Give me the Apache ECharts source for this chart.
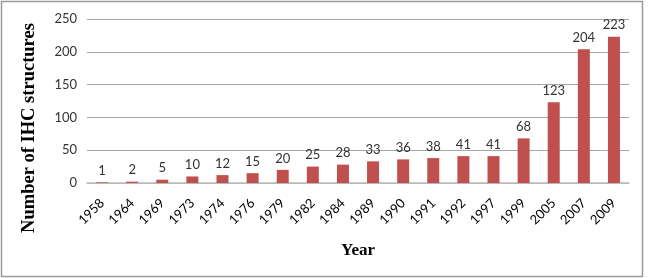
<!DOCTYPE html>
<html>
<head>
<meta charset="utf-8">
<script src="https://cdn.jsdelivr.net/npm/echarts@6/dist/echarts.min.js"></script>
<style>
    html, body { margin: 0; padding: 0; background: #fff; }
    #chart { width: 649px; height: 278px; }
</style>
</head>
<body>
<div id="chart"></div>
<script>
const years = ['1958', '1964', '1969', '1973', '1974', '1976', '1979', '1982', '1984',
    '1989', '1990', '1991', '1992', '1997', '1999', '2005', '2007', '2009'];
const structures = [1, 2, 5, 10, 12, 15, 20, 25, 28, 33, 36, 38, 41, 41, 68, 123, 204, 223];
const yTicks = [0, 50, 100, 150, 200, 250];

window.onload = () => {
    let chart = echarts.init(document.getElementById('chart'), null, {renderer: 'canvas'});
    let titleFont = 'Liberation Serif';
    let option = {
        animation: false,
        graphic: [{
            type: 'rect',
            shape: {x: 1.5, y: 1.5, width: 641, height: 275},
            style: {fill: null, stroke: '#9a9a9a', lineWidth: 1.5}
        }, {
            // y axis title, centred on the whole chart height like the original
            type: 'text',
            x: 29,
            y: 128,
            rotation: Math.PI / 2,
            style: {
                text: 'Number of IHC structures',
                fontFamily: titleFont,
                fontWeight: 'bold',
                fontSize: 18.5,
                fill: '#000',
                align: 'center',
                verticalAlign: 'middle'
            }
        }],
        grid: {left: 87, right: 20, top: 19, bottom: 95},
        xAxis: {
            type: 'category',
            data: years,
            name: 'Year',
            nameLocation: 'middle',
            nameGap: 59,
            nameTextStyle: {fontFamily: titleFont, fontWeight: 'bold', fontSize: 17, color: '#000'},
            axisLine: {lineStyle: {color: '#bfbfbf', width: 1.5}},
            axisTick: {show: false},
            axisLabel: {
                rotate: 45, interval: 0, margin: 18,
                fontFamily: 'Lato', fontSize: 13, color: '#000'
            }
        },
        yAxis: {
            type: 'value',
            min: yTicks[0],
            max: yTicks[yTicks.length - 1],
            interval: 50,
            axisLine: {show: false},
            axisTick: {show: false},
            axisLabel: {fontFamily: 'Lato', fontSize: 13, color: '#333', margin: 10},
            splitLine: {lineStyle: {color: '#a6a6a6', width: 1}}
        },
        series: [{
            type: 'bar',
            data: structures,
            barWidth: 12,
            itemStyle: {color: '#c0504d'},
            label: {
                show: true, position: 'top', distance: 5,
                fontFamily: 'Lato', fontSize: 13, color: '#333'
            }
        }]
    };
    chart.setOption(option);
};
</script>
</body>
</html>
